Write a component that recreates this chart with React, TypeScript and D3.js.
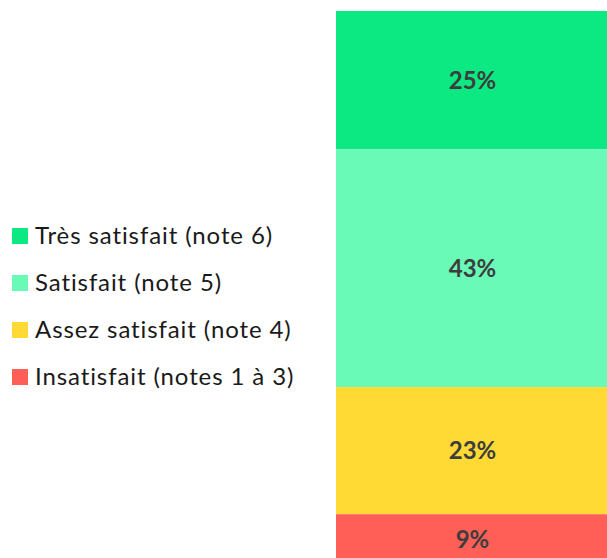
import { useEffect, useRef } from "react";
import * as d3 from "d3";

const categories = [
  "Très satisfait (note 6)",
  "Satisfait (note 5)",
  "Assez satisfait (note 4)",
  "Insatisfait (notes 1 à 3)",
];
const values = [25, 43, 23, 9];
const colors = ["#0ce982", "#6afab8", "#ffda35", "#ff5f57"];

const width = 607;
const height = 558;

const App = () => {
  const svgRef = useRef<SVGSVGElement>(null);

  useEffect(() => {
    const svg = d3.select(svgRef.current);
    svg.selectAll("*").remove();

    // bar runs past the bottom and right edges of the frame
    const y = d3.scaleLinear().domain([0, 100]).range([11, 564]);
    const barX = 336;
    const barW = 273;

    let acc = 0;
    const stacked = values.map((v, i) => {
      const d = { value: v, start: acc, end: acc + v, color: colors[i] };
      acc += v;
      return d;
    });

    const seg = svg
      .selectAll(".seg")
      .data(stacked)
      .enter()
      .append("g")
      .attr("class", "seg");

    seg
      .append("rect")
      .attr("x", barX)
      .attr("y", (d) => y(d.start))
      .attr("width", barW)
      .attr("height", (d) => y(d.end) - y(d.start))
      .attr("fill", (d) => d.color);

    seg
      .append("text")
      .attr("x", barX + barW / 2)
      .attr("y", (d) => (y(d.start) + y(d.end)) / 2)
      .attr("dy", "0.35em")
      .attr("text-anchor", "middle")
      .attr("font-family", "Lato, sans-serif")
      .attr("font-weight", "bold")
      .attr("font-size", 24)
      .attr("fill", "#3d3d3d")
      .text((d) => `${d.value}%`);

    // Legend
    const legendY = d3
      .scalePoint()
      .domain(categories)
      .range([236, 377]);

    const items = svg
      .selectAll(".legend")
      .data(categories)
      .enter()
      .append("g")
      .attr("class", "legend")
      .attr("transform", (d) => `translate(12,${legendY(d)})`);

    items
      .append("rect")
      .attr("x", 0)
      .attr("y", -8)
      .attr("width", 16)
      .attr("height", 16)
      .attr("fill", (_d, i) => colors[i]);

    items
      .append("text")
      .attr("x", 23)
      .attr("y", 0)
      .attr("dy", "0.35em")
      .attr("font-family", "Lato, sans-serif")
      .attr("font-size", 24)
      .attr("letter-spacing", 0.9)
      .attr("fill", "#1a1a1a")
      .text((d) => d);
  }, []);

  return (
    <svg
      ref={svgRef}
      width={width}
      height={height}
      style={{ position: "absolute", left: 0, top: 0, display: "block" }}
    />
  );
};

export default App;
